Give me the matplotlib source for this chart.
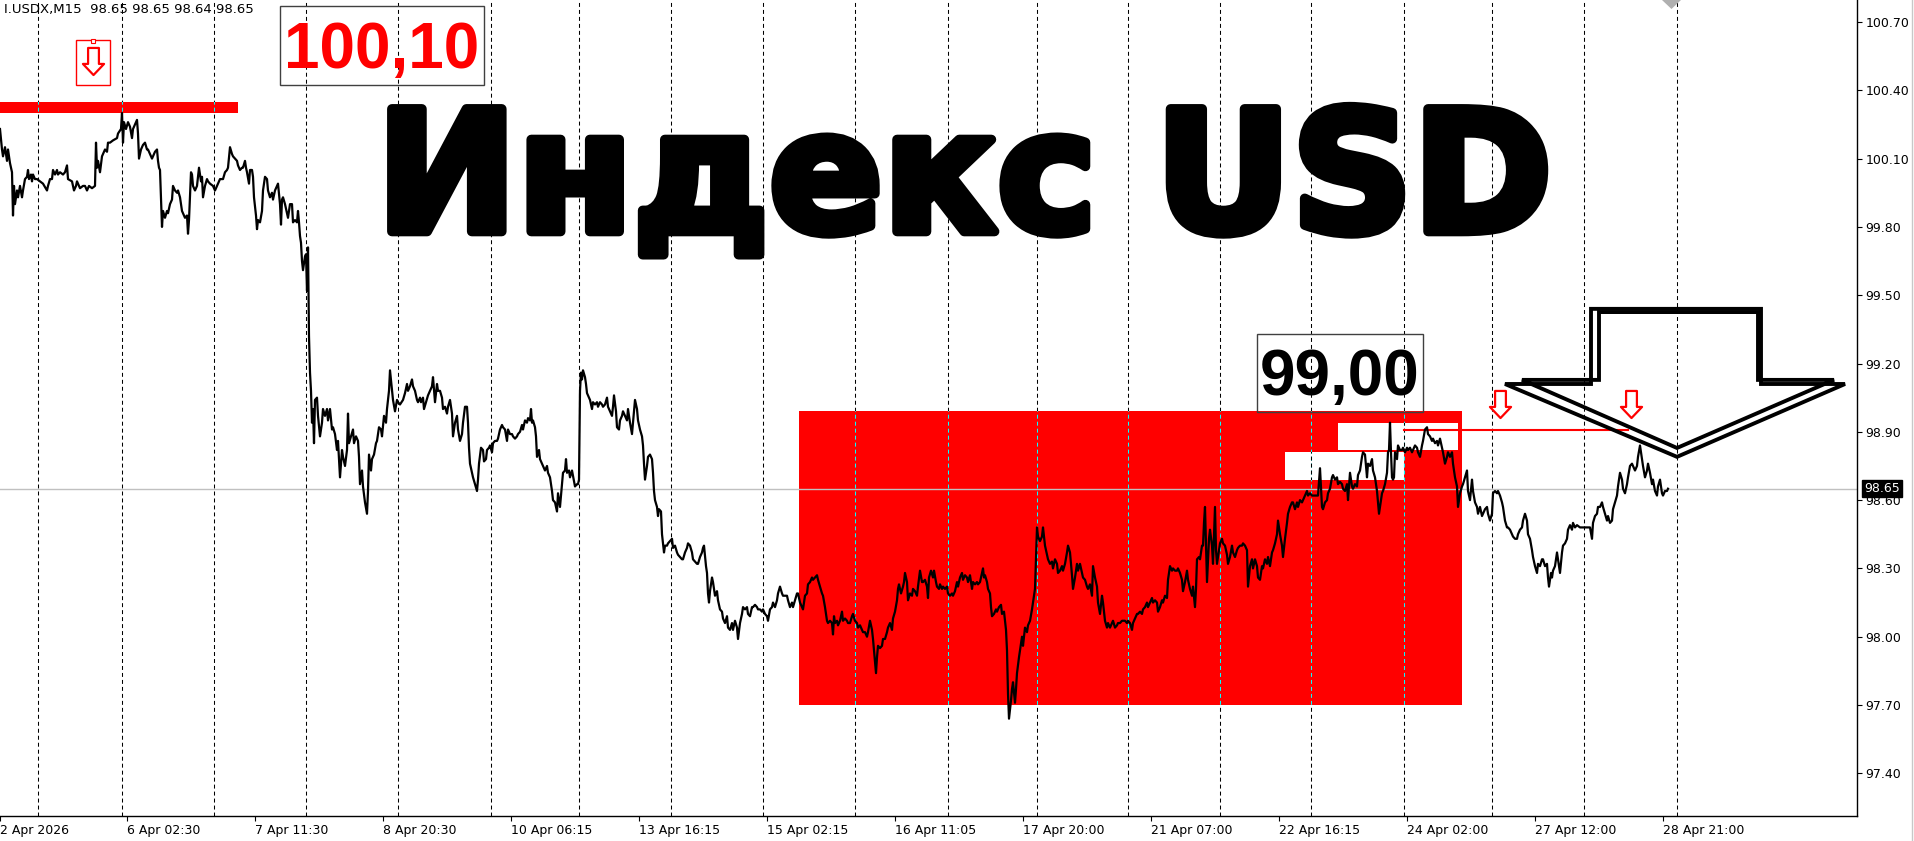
import matplotlib
matplotlib.use("Agg")
import matplotlib.pyplot as plt
import matplotlib.patheffects as pe
from matplotlib.patches import Rectangle, Polygon
from matplotlib.path import Path
from matplotlib.lines import Line2D
import numpy as np

# M15 closes, (bar number, close)
apr02_07 = [
    (0, 100.23), (2, 100.14), (3, 100.11), (5, 100.15), (7, 100.09), (8, 100.14), (10, 100.08), (12, 100.04),
    (13, 99.85), (14, 99.98), (15, 99.90), (17, 99.96), (18, 99.93), (20, 99.98), (22, 99.93), (23, 99.96),
    (25, 100.01), (27, 100.02), (28, 100.05), (29, 100.01), (31, 100.03), (32, 100.00), (33, 100.03), (35, 100.01),
    (37, 100.01), (40, 100.00), (43, 99.99), (47, 99.96), (48, 99.98), (50, 100.01), (52, 100.01), (53, 100.05),
    (55, 100.03), (57, 100.05), (58, 100.03), (60, 100.04), (63, 100.03), (65, 100.04), (67, 100.07), (68, 100.01),
    (72, 100.00), (74, 99.96), (76, 99.98), (77, 100.00), (79, 99.98), (80, 99.97), (83, 99.98), (85, 99.98),
    (87, 99.96), (89, 99.98), (92, 99.97), (95, 99.98), (96, 100.17), (97, 100.06), (98, 100.09), (100, 100.04),
    (102, 100.11), (103, 100.12), (105, 100.14), (107, 100.13), (108, 100.17), (110, 100.17), (113, 100.18),
    (117, 100.19), (118, 100.21), (121, 100.23), (122, 100.30), (123, 100.17), (124, 100.26), (126, 100.23),
    (128, 100.26), (130, 100.24), (132, 100.19), (133, 100.23), (135, 100.25), (137, 100.27), (138, 100.21),
    (139, 100.10), (141, 100.14), (143, 100.16), (145, 100.17), (147, 100.14), (148, 100.14), (150, 100.12),
    (152, 100.10), (153, 100.11), (155, 100.13), (157, 100.14), (158, 100.09), (159, 100.06), (160, 100.05),
    (161, 99.93), (162, 99.80), (163, 99.87), (165, 99.84), (167, 99.87), (168, 99.86), (170, 99.90), (172, 99.92),
    (173, 99.98), (175, 99.96), (177, 99.95), (178, 99.96), (180, 99.93), (182, 99.87), (183, 99.86), (185, 99.84),
    (187, 99.85), (188, 99.77), (189, 99.83), (191, 100.04), (192, 100.03), (193, 99.98), (195, 99.96), (197, 99.98),
    (198, 100.02), (199, 100.06), (201, 100.00), (202, 100.02), (203, 99.93), (205, 99.98), (207, 100.01),
    (208, 100.00), (210, 99.99), (213, 99.98), (215, 99.96), (217, 99.98), (218, 99.99), (220, 100.01),
    (222, 100.01), (223, 100.01), (225, 100.04), (227, 100.05), (228, 100.06), (230, 100.15), (232, 100.12),
    (233, 100.11), (235, 100.10), (237, 100.09), (238, 100.07), (240, 100.05), (242, 100.06), (243, 100.06),
    (245, 100.09), (246, 100.06), (247, 100.04), (249, 99.99), (250, 100.05), (252, 100.05), (253, 100.02),
    (254, 99.93), (256, 99.85), (257, 99.79), (258, 99.83), (260, 99.82), (262, 99.87), (263, 99.96), (265, 100.02),
    (267, 100.01), (268, 99.96), (270, 99.93), (272, 99.95), (273, 99.92), (275, 99.96), (277, 99.98), (278, 99.99),
    (280, 99.90), (281, 99.81), (282, 99.92), (283, 99.93), (285, 99.90), (287, 99.86), (288, 99.84), (290, 99.90),
    (292, 99.90), (293, 99.82), (295, 99.83), (297, 99.82), (298, 99.87), (299, 99.82), (300, 99.76), (301, 99.73),
    (302, 99.65), (303, 99.61), (305, 99.67), (306, 99.68), (307, 99.52), (308, 99.71), (309, 99.32), (310, 99.16),
    (311, 99.08), (312, 98.94), (313, 99.00), (314, 98.85), (315, 99.04), (317, 99.05), (318, 98.97), (320, 98.88),
    (322, 98.94), (323, 99.00), (325, 98.97), (327, 99.00), (328, 98.95), (330, 99.00), (332, 98.91), (333, 98.92),
    (335, 98.89), (337, 98.82), (338, 98.86), (340, 98.70), (342, 98.82), (343, 98.79), (345, 98.75), (347, 98.82),
    (348, 98.98), (349, 98.85), (351, 98.88), (353, 98.91), (354, 98.85), (356, 98.88), (358, 98.86), (359, 98.79),
    (360, 98.67), (362, 98.73), (363, 98.66), (365, 98.59), (367, 98.54), (368, 98.64), (369, 98.80), (371, 98.73),
    (372, 98.78), (374, 98.80), (376, 98.85), (377, 98.86), (379, 98.92), (381, 98.91), (382, 98.88), (384, 98.97),
    (386, 98.94), (387, 99.00), (389, 99.08), (390, 99.17), (392, 99.08), (393, 99.04), (395, 98.99), (397, 99.04),
    (398, 99.03), (400, 99.02), (403, 99.04), (405, 99.07), (407, 99.11), (408, 99.08), (410, 99.10), (412, 99.13),
    (413, 99.10), (415, 99.08), (417, 99.04), (418, 99.03), (420, 99.05),
]

apr08_15 = [
    (421, 99.03), (423, 99.05), (424, 99.00), (426, 99.03), (428, 99.06), (430, 99.08), (432, 99.10), (433, 99.14),
    (435, 99.03), (437, 99.11), (438, 99.08), (440, 99.08), (442, 99.05), (443, 99.00), (445, 99.01), (447, 98.98),
    (448, 99.01), (450, 99.04), (452, 98.98), (453, 98.88), (455, 98.94), (457, 98.97), (458, 98.91), (460, 98.86),
    (462, 98.89), (463, 98.94), (465, 99.01), (467, 99.01), (468, 98.94), (469, 98.83), (470, 98.76), (472, 98.72),
    (473, 98.70), (475, 98.67), (477, 98.64), (478, 98.69), (479, 98.76), (481, 98.83), (483, 98.82), (484, 98.77),
    (486, 98.78), (487, 98.82), (489, 98.83), (490, 98.84), (492, 98.81), (493, 98.85), (495, 98.86), (497, 98.86),
    (498, 98.87), (500, 98.91), (502, 98.93), (503, 98.92), (505, 98.91), (507, 98.86), (508, 98.91), (510, 98.89),
    (512, 98.89), (513, 98.88), (515, 98.87), (517, 98.88), (518, 98.89), (520, 98.90), (522, 98.93), (523, 98.91),
    (525, 98.95), (527, 98.94), (528, 98.96), (530, 98.95), (531, 99.00), (532, 98.94), (533, 98.95), (535, 98.92),
    (536, 98.88), (537, 98.79), (539, 98.82), (540, 98.78), (542, 98.76), (543, 98.75), (545, 98.73), (547, 98.75),
    (548, 98.72), (550, 98.70), (552, 98.64), (553, 98.60), (555, 98.59), (557, 98.55), (558, 98.63), (560, 98.57),
    (562, 98.67), (563, 98.72), (565, 98.73), (566, 98.78), (567, 98.72), (569, 98.73), (570, 98.70), (572, 98.73),
    (575, 98.66), (577, 98.67), (578, 98.67), (579, 98.69), (580, 99.08), (581, 99.16), (582, 99.13), (583, 99.17),
    (585, 99.14), (586, 99.11), (587, 99.07), (589, 99.05), (590, 99.04), (592, 99.00), (593, 99.03), (595, 99.02),
    (597, 99.03), (598, 99.01), (600, 99.03), (602, 99.02), (603, 99.01), (605, 99.02), (607, 99.05), (608, 99.01),
    (612, 98.97), (613, 99.01), (614, 99.06), (616, 98.99), (617, 98.92), (619, 98.91), (620, 98.95), (622, 98.97),
    (623, 98.99), (625, 98.97), (627, 98.95), (628, 99.00), (630, 98.94), (632, 98.89), (633, 98.94), (635, 99.04),
    (637, 99.00), (638, 98.95), (640, 98.91), (642, 98.88), (643, 98.84), (644, 98.76), (645, 98.69), (647, 98.75),
    (648, 98.79), (650, 98.80), (652, 98.78), (653, 98.72), (654, 98.64), (655, 98.60), (657, 98.57), (658, 98.53),
    (659, 98.56), (661, 98.55), (662, 98.45), (663, 98.41), (664, 98.37), (665, 98.40), (667, 98.40), (668, 98.41),
    (670, 98.42), (672, 98.43), (673, 98.39), (675, 98.40), (677, 98.37), (678, 98.36), (680, 98.35), (682, 98.34),
    (683, 98.34), (685, 98.37), (687, 98.39), (688, 98.41), (690, 98.40), (692, 98.37), (693, 98.34), (695, 98.33),
    (697, 98.32), (698, 98.32), (700, 98.35), (702, 98.37), (703, 98.39), (704, 98.40), (706, 98.31), (707, 98.28),
    (708, 98.19), (709, 98.15), (710, 98.20), (712, 98.26), (713, 98.24), (715, 98.18), (717, 98.20), (718, 98.16),
    (720, 98.12), (722, 98.11), (723, 98.08), (725, 98.06), (727, 98.09), (728, 98.04), (730, 98.03), (732, 98.06),
    (733, 98.03), (735, 98.07), (737, 98.04), (738, 97.99), (740, 98.06), (742, 98.10), (743, 98.13), (745, 98.12),
    (747, 98.13), (748, 98.10), (750, 98.09), (752, 98.13), (753, 98.13), (755, 98.14), (757, 98.13), (758, 98.12),
    (760, 98.12), (762, 98.11), (763, 98.12), (765, 98.10), (767, 98.09), (768, 98.07), (770, 98.12), (772, 98.13),
    (773, 98.15), (775, 98.13), (777, 98.16), (778, 98.19), (780, 98.22), (782, 98.19), (783, 98.18), (785, 98.18),
    (787, 98.18), (788, 98.16), (790, 98.13), (792, 98.15), (793, 98.13), (795, 98.16), (797, 98.19), (798, 98.19),
    (800, 98.15), (802, 98.13), (803, 98.12), (805, 98.18), (807, 98.19), (808, 98.23), (810, 98.24), (812, 98.26),
    (813, 98.25), (815, 98.26), (817, 98.27), (818, 98.25), (820, 98.22), (822, 98.19), (823, 98.18), (825, 98.13),
    (827, 98.07), (828, 98.06),
]

apr15_22 = [
    (830, 98.07), (832, 98.06), (833, 98.01), (834, 98.09), (835, 98.06), (837, 98.07), (838, 98.05), (840, 98.07),
    (842, 98.11), (843, 98.07), (845, 98.08), (847, 98.07), (848, 98.06), (850, 98.06), (852, 98.09), (853, 98.10),
    (855, 98.07), (857, 98.06), (858, 98.04), (860, 98.05), (862, 98.03), (863, 98.02), (865, 98.02), (867, 98.00),
    (868, 98.02), (870, 98.07), (872, 98.03), (873, 97.99), (874, 97.94), (876, 97.84), (877, 97.91), (878, 97.96),
    (880, 97.95), (882, 97.96), (883, 97.99), (885, 97.99), (887, 98.02), (888, 98.04), (890, 98.06), (892, 98.03),
    (893, 98.08), (895, 98.11), (897, 98.16), (898, 98.21), (899, 98.23), (901, 98.19), (903, 98.22), (904, 98.24),
    (905, 98.28), (907, 98.24), (908, 98.16), (910, 98.19), (912, 98.18), (913, 98.21), (915, 98.20), (917, 98.18),
    (918, 98.22), (920, 98.29), (922, 98.24), (923, 98.24), (925, 98.25), (927, 98.22), (928, 98.17), (929, 98.26),
    (931, 98.29), (933, 98.26), (934, 98.29), (936, 98.24), (937, 98.22), (939, 98.21), (940, 98.23), (942, 98.21),
    (943, 98.22), (945, 98.21), (947, 98.22), (948, 98.19), (950, 98.18), (952, 98.19), (953, 98.18), (955, 98.20),
    (957, 98.24), (958, 98.22), (960, 98.26), (962, 98.28), (963, 98.25), (965, 98.27), (967, 98.26), (968, 98.24),
    (970, 98.27), (972, 98.21), (973, 98.24), (975, 98.23), (977, 98.24), (978, 98.23), (980, 98.24), (982, 98.28),
    (983, 98.30), (984, 98.26), (985, 98.27), (987, 98.24), (988, 98.21), (990, 98.19), (991, 98.13), (992, 98.09),
    (994, 98.10), (996, 98.12), (997, 98.11), (999, 98.13), (1001, 98.14), (1002, 98.10), (1004, 98.11),
    (1005, 98.07), (1006, 98.03), (1007, 97.94), (1008, 97.75), (1009, 97.64), (1011, 97.72), (1012, 97.77),
    (1013, 97.80), (1015, 97.71), (1016, 97.77), (1017, 97.84), (1019, 97.91), (1020, 97.94), (1022, 98.00),
    (1023, 97.96), (1025, 98.04), (1027, 98.02), (1028, 98.05), (1030, 98.07), (1032, 98.12), (1033, 98.15),
    (1035, 98.21), (1037, 98.48), (1038, 98.44), (1040, 98.42), (1042, 98.44), (1043, 98.48), (1045, 98.40),
    (1047, 98.36), (1048, 98.34), (1050, 98.32), (1052, 98.33), (1053, 98.30), (1055, 98.34), (1057, 98.32),
    (1058, 98.28), (1060, 98.29), (1062, 98.31), (1063, 98.29), (1065, 98.32), (1067, 98.37), (1068, 98.40),
    (1070, 98.37), (1072, 98.27), (1073, 98.21), (1075, 98.26), (1077, 98.32), (1078, 98.29), (1080, 98.32),
    (1082, 98.28), (1083, 98.26), (1085, 98.25), (1087, 98.22), (1088, 98.21), (1090, 98.23), (1092, 98.18),
    (1093, 98.31), (1095, 98.26), (1097, 98.22), (1098, 98.15), (1100, 98.10), (1102, 98.18), (1103, 98.15),
    (1105, 98.07), (1107, 98.04), (1108, 98.06), (1110, 98.04), (1112, 98.06), (1113, 98.07), (1115, 98.04),
    (1117, 98.05), (1118, 98.06), (1120, 98.06), (1122, 98.07), (1123, 98.07), (1125, 98.07), (1127, 98.06),
    (1128, 98.07), (1130, 98.06), (1132, 98.03), (1133, 98.06), (1135, 98.08), (1137, 98.10), (1138, 98.10),
    (1140, 98.11), (1142, 98.10), (1143, 98.12), (1145, 98.13), (1147, 98.15), (1148, 98.13), (1150, 98.15),
    (1152, 98.17), (1153, 98.15), (1155, 98.16), (1157, 98.15), (1158, 98.11), (1160, 98.13), (1162, 98.16),
    (1163, 98.15), (1165, 98.18), (1167, 98.17), (1168, 98.25), (1170, 98.31), (1172, 98.29), (1173, 98.30),
    (1175, 98.29), (1177, 98.29), (1178, 98.30), (1180, 98.28), (1182, 98.25), (1183, 98.20), (1185, 98.24),
    (1187, 98.29), (1188, 98.25), (1190, 98.21), (1192, 98.18), (1193, 98.22), (1195, 98.13), (1196, 98.21),
    (1197, 98.34), (1199, 98.35), (1200, 98.34), (1202, 98.40), (1203, 98.40), (1204, 98.50), (1205, 98.57),
    (1207, 98.24), (1208, 98.34), (1209, 98.43), (1210, 98.47), (1212, 98.40), (1213, 98.32), (1215, 98.57),
    (1216, 98.38), (1217, 98.32), (1219, 98.38), (1220, 98.41), (1222, 98.43), (1223, 98.41), (1225, 98.40),
    (1227, 98.36), (1228, 98.32), (1230, 98.35), (1232, 98.40), (1233, 98.37), (1235, 98.35), (1237, 98.38),
    (1238, 98.39), (1240, 98.40), (1242, 98.40), (1243, 98.41), (1245, 98.40), (1247, 98.38), (1248, 98.22),
    (1250, 98.31),
]

apr22_28 = [
    (1252, 98.34), (1253, 98.30), (1255, 98.34), (1257, 98.31), (1258, 98.26), (1260, 98.25), (1262, 98.31),
    (1263, 98.30), (1265, 98.34), (1267, 98.32), (1268, 98.35), (1270, 98.31), (1272, 98.37), (1273, 98.38),
    (1275, 98.41), (1277, 98.45), (1278, 98.51), (1280, 98.45), (1282, 98.40), (1283, 98.35), (1285, 98.43),
    (1287, 98.50), (1288, 98.54), (1290, 98.57), (1292, 98.59), (1293, 98.59), (1295, 98.56), (1297, 98.59),
    (1298, 98.57), (1300, 98.60), (1302, 98.59), (1303, 98.60), (1305, 98.62), (1307, 98.64), (1308, 98.62),
    (1310, 98.63), (1312, 98.62), (1313, 98.62), (1315, 98.62), (1317, 98.62), (1318, 98.62), (1320, 98.74),
    (1322, 98.57), (1323, 98.56), (1325, 98.59), (1327, 98.60), (1328, 98.63), (1330, 98.65), (1332, 98.70),
    (1333, 98.71), (1335, 98.69), (1337, 98.70), (1338, 98.67), (1340, 98.68), (1342, 98.67), (1343, 98.65),
    (1345, 98.64), (1347, 98.67), (1348, 98.60), (1350, 98.72), (1352, 98.66), (1353, 98.65), (1355, 98.67),
    (1357, 98.66), (1358, 98.71), (1360, 98.73), (1362, 98.79), (1363, 98.81), (1365, 98.80), (1367, 98.70),
    (1368, 98.76), (1370, 98.75), (1372, 98.78), (1373, 98.73), (1375, 98.70), (1377, 98.64), (1378, 98.59),
    (1379, 98.54), (1381, 98.60), (1382, 98.63), (1383, 98.64), (1385, 98.67), (1387, 98.72), (1388, 98.81),
    (1389, 98.82), (1390, 98.94), (1391, 98.81), (1392, 98.70), (1393, 98.69), (1394, 98.70), (1395, 98.81),
    (1397, 98.78), (1398, 98.84), (1400, 98.82), (1402, 98.82), (1403, 98.83), (1405, 98.81), (1407, 98.83),
    (1408, 98.82), (1410, 98.83), (1412, 98.81), (1413, 98.82), (1415, 98.84), (1417, 98.83), (1418, 98.81),
    (1420, 98.79), (1422, 98.84), (1423, 98.86), (1425, 98.91), (1427, 98.92), (1428, 98.89), (1430, 98.88),
    (1432, 98.86), (1433, 98.87), (1435, 98.85), (1437, 98.86), (1438, 98.84), (1440, 98.87), (1442, 98.83),
    (1443, 98.81), (1445, 98.76), (1447, 98.79), (1448, 98.81), (1450, 98.79), (1452, 98.81), (1453, 98.76),
    (1455, 98.70), (1457, 98.66), (1458, 98.57), (1460, 98.63), (1462, 98.66), (1463, 98.67), (1465, 98.70),
    (1467, 98.73), (1468, 98.64), (1470, 98.60), (1472, 98.69), (1473, 98.64), (1475, 98.59), (1477, 98.57),
    (1478, 98.54), (1480, 98.57), (1482, 98.53), (1483, 98.54), (1485, 98.56), (1487, 98.57), (1488, 98.54),
    (1490, 98.51), (1492, 98.54), (1493, 98.63), (1495, 98.64), (1497, 98.63), (1498, 98.64), (1500, 98.62),
    (1502, 98.59), (1503, 98.57), (1505, 98.51), (1507, 98.48), (1508, 98.48), (1510, 98.47), (1512, 98.45),
    (1513, 98.44), (1515, 98.43), (1517, 98.43), (1518, 98.45), (1520, 98.47), (1522, 98.48), (1523, 98.51),
    (1525, 98.54), (1527, 98.51), (1528, 98.45), (1530, 98.43), (1532, 98.38), (1533, 98.35), (1535, 98.31),
    (1537, 98.28), (1538, 98.32), (1540, 98.31), (1542, 98.34), (1543, 98.34), (1545, 98.31), (1547, 98.32),
    (1548, 98.26), (1549, 98.22), (1551, 98.28), (1552, 98.26), (1553, 98.29), (1555, 98.31), (1557, 98.37),
    (1558, 98.34), (1560, 98.28), (1562, 98.37), (1563, 98.40), (1565, 98.41), (1567, 98.43), (1568, 98.47),
    (1570, 98.49), (1572, 98.47), (1573, 98.50), (1575, 98.48), (1577, 98.49), (1580, 98.48), (1583, 98.48),
    (1587, 98.48), (1590, 98.48), (1592, 98.43), (1593, 98.50), (1595, 98.53), (1597, 98.54), (1598, 98.57),
    (1600, 98.57), (1602, 98.59), (1603, 98.57), (1605, 98.54), (1607, 98.51), (1608, 98.53), (1610, 98.50),
    (1612, 98.51), (1613, 98.56), (1615, 98.59), (1617, 98.62), (1618, 98.66), (1620, 98.72), (1622, 98.69),
    (1623, 98.65), (1625, 98.63), (1627, 98.67), (1628, 98.70), (1630, 98.75), (1632, 98.76), (1633, 98.75),
    (1635, 98.73), (1637, 98.75), (1638, 98.79), (1640, 98.84), (1642, 98.78), (1643, 98.75), (1645, 98.70),
    (1647, 98.73), (1648, 98.76), (1650, 98.72), (1652, 98.67), (1653, 98.69), (1655, 98.64), (1657, 98.62),
    (1658, 98.66), (1660, 98.69), (1662, 98.63), (1663, 98.62), (1665, 98.64), (1667, 98.64), (1668, 98.65),
]

last_price = 98.65
header = "I.USDX,M15  98.65 98.65 98.64 98.65"

# time axis
tick_bars = [0, 127, 255, 383, 511, 639, 767, 895, 1023, 1151, 1279, 1407, 1535, 1663]
tick_text = ["2 Apr 2026", "6 Apr 02:30", "7 Apr 11:30", "8 Apr 20:30", "10 Apr 06:15", "13 Apr 16:15",
             "15 Apr 02:15", "16 Apr 11:05", "17 Apr 20:00", "21 Apr 07:00", "22 Apr 16:15", "24 Apr 02:00",
             "27 Apr 12:00", "28 Apr 21:00"]
day_bars = [38, 122, 214, 306, 398, 491, 579, 671, 763, 855, 948, 1037, 1128, 1220, 1311, 1404, 1492, 1584, 1677]
price_ticks = [97.40, 97.70, 98.00, 98.30, 98.60, 98.90, 99.20, 99.50, 99.80, 100.10, 100.40, 100.70]

# drawn objects: (bar_from, bar_to, price_low, price_high)
top_band = (0, 238, 100.30, 100.35)
zone = (799, 1462, 97.70, 98.99)
white_a = (1338, 1458, 98.82, 98.94)
white_b = (1285, 1404, 98.69, 98.81)
level_line = (1404, 1628, 98.91)
label_hi = ("100,10", 382, 100.50, (280, 484, 100.423, 100.770))
label_lo = ("99,00", 1340, 99.06, (1257, 1423, 98.986, 99.328))
title = ("Индекс USD", 964, 99.78)
small_arrows = [(93, 100.53), (1500, 99.02), (1631, 99.02)]
arrow_outer = [(1591, 99.44), (1761, 99.44), (1761, 99.11), (1845, 99.11), (1677, 98.79), (1505, 99.11), (1591, 99.11)]
arrow_inner = [(1599, 99.426), (1758, 99.426), (1758, 99.128), (1834, 99.128), (1677, 98.829), (1522, 99.128), (1599, 99.128)]

pts = np.array(apr02_07 + apr08_15 + apr15_22 + apr22_28)
bars, closes = pts[:, 0], pts[:, 1]

W, H = 1915, 841
fig = plt.figure(figsize=(W / 100, H / 100), dpi=100)
ax = fig.add_axes([0, 25 / H, 1857 / W, 816 / H])
ax.set_xlim(0, 1857)
ax.set_ylim(97.2125, 100.7966)

dash = (0, (3.8, 2.9))


def day_grid(color, z, clip=None):
    lc = ax.vlines(day_bars, 97.2125, 100.7966, colors=color, linestyles=[dash], linewidth=0.75, zorder=z)
    if clip is not None:
        lc.set_clip_path(clip)
    return lc


day_grid("black", 1)


def box(spec, color, z, **kw):
    x0, x1, y0, y1 = spec
    r = Rectangle((x0, y0), x1 - x0, y1 - y0, facecolor=color, edgecolor="none", zorder=z, **kw)
    ax.add_patch(r)
    return r


band = box(top_band, "#FF0000", 2)
red = box(zone, "#FF0000", 2)
wa = box(white_a, "white", 3)
wb = box(white_b, "white", 3)
# grid dots show up cyan on red (xor drawing), black on white
day_grid("#00FFFF", 4, red)
day_grid("#00FFFF", 4, band)
day_grid("black", 4.1, wa)
day_grid("black", 4.1, wb)

ax.axhline(last_price, color="#C0C0C0", linewidth=1, zorder=5)
ax.plot([level_line[0], level_line[1]], [level_line[2]] * 2, color="#FF0000", linewidth=1.5, zorder=5.5)
ax.plot(bars, closes, color="black", linewidth=1.6, zorder=6)

# hollow down arrows
arr = Path([(-0.2, 0.5), (0.2, 0.5), (0.2, -0.09), (0.39, -0.09), (0, -0.5), (-0.39, -0.09), (-0.2, -0.09), (0, 0)],
           [Path.MOVETO] + [Path.LINETO] * 6 + [Path.CLOSEPOLY])
for bx, py in small_arrows:
    ax.plot(bx, py, marker=arr, markersize=19.5, markerfacecolor="white", markeredgecolor="#FF0000",
            markeredgewidth=1.6, linestyle="none", zorder=7)
# selection frame round the first one
ax.add_patch(Rectangle((76, 100.423), 34, 0.198, fill=False, edgecolor="#FF0000", linewidth=1, zorder=7))
ax.plot(93, 100.615, marker="s", markersize=3.5, markerfacecolor="white", markeredgecolor="#FF0000",
        markeredgewidth=0.8, zorder=7.1)

# big outlined arrow
for poly in (arrow_outer, arrow_inner):
    ax.add_patch(Polygon(poly, closed=True, fill=False, edgecolor="black", linewidth=2.8,
                         joinstyle="miter", zorder=7))

# price labels with frames
for txt, bx, py, frame in (label_hi, label_lo):
    x0, x1, y0, y1 = frame
    ax.add_patch(Rectangle((x0, y0), x1 - x0, y1 - y0, fill=False, edgecolor="#404040", linewidth=1, zorder=8))
    ax.text(bx, py, txt, ha="center", va="baseline", fontsize=46, fontweight="bold",
            family="Liberation Sans", color="#FF0000" if txt == "100,10" else "black", zorder=8)

ax.text(title[1], title[2], title[0], ha="center", va="baseline", fontsize=121, fontweight="bold",
        family="DejaVu Sans", color="black", zorder=8,
        path_effects=[pe.withStroke(linewidth=7, foreground="black")])

# axes
for s in ("top", "left"):
    ax.spines[s].set_visible(False)
for s in ("right", "bottom"):
    ax.spines[s].set_linewidth(1)
    ax.spines[s].set_color("black")
    ax.spines[s].set_zorder(9)

ax.yaxis.tick_right()
ax.set_yticks(price_ticks)
ax.set_yticklabels([f"{v:.2f}" for v in price_ticks])
ax.set_xticks(tick_bars)
ax.set_xticklabels(tick_text, ha="left")
ax.tick_params(axis="both", direction="out", length=3.5, width=0.8, labelsize=9, colors="black")
ax.tick_params(axis="y", pad=2.5)
ax.tick_params(axis="x", pad=2)

ax.annotate(f"{last_price:.2f}", xy=(1, last_price), xycoords=("axes fraction", "data"),
            xytext=(5, 0), textcoords="offset points", ha="left", va="center", fontsize=9, color="white",
            bbox=dict(boxstyle="square,pad=0.18", facecolor="black", edgecolor="black"),
            annotation_clip=False, zorder=10)

fig.text(4 / W, 1 - 3 / H, header, ha="left", va="top", fontsize=9.5, color="black")
fig.add_artist(Line2D([1912 / W, 1912 / W], [0, 1], color="#C8C8C8", linewidth=1))
fig.add_artist(Polygon([(1662 / W, 1), (1681 / W, 1), (1671.5 / W, 1 - 9 / H)], closed=True,
                       transform=fig.transFigure, facecolor="#B0B0B0", edgecolor="none"))

fig.savefig("out.png", dpi=100, facecolor="white")
